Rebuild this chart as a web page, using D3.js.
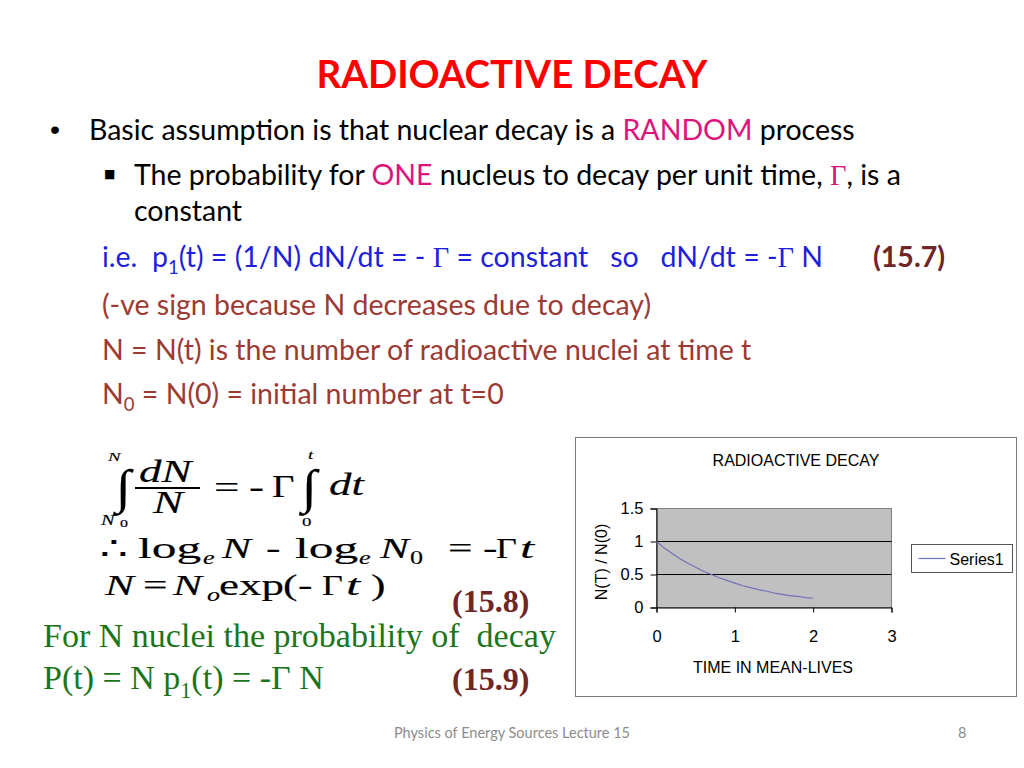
<!DOCTYPE html>
<html>
<head>
<meta charset="utf-8">
<script src="https://cdn.jsdelivr.net/npm/d3@7"></script>
<style>
  body { margin: 0; background: #fff; }
  svg { display: block; }
  text { white-space: pre; }
</style>
</head>
<body>
<svg id="slide" width="1024" height="768"></svg>
<script>
// chart data
const timeValues  = [0, 0.1, 0.2, 0.3, 0.4, 0.5, 0.6, 0.7, 0.8, 0.9, 1.0,
                     1.1, 1.2, 1.3, 1.4, 1.5, 1.6, 1.7, 1.8, 1.9, 2.0];
const ratioValues = [1.00, 0.90, 0.82, 0.74, 0.67, 0.61, 0.55, 0.50, 0.45, 0.41, 0.37,
                     0.33, 0.30, 0.27, 0.25, 0.22, 0.20, 0.18, 0.17, 0.15, 0.14];
const xTicks = [0, 1, 2, 3];
const yTicks = [0, 0.5, 1, 1.5];
const yTickLabels = ["0", "0.5", "1", "1.5"];
const seriesName = "Series1";

// slide colours
const C = {
  title: "#ff0000",
  pink: "#dc147c",
  blue: "#1f1fdc",
  brown: "#9c3a33",
  maroon: "#6e2626",
  green: "#1b761b",
  grey: "#8c8c8c"
};

const svg = d3.select("#slide");
const SANS = "Lato, 'Open Sans', sans-serif";
const SERIF = "'Liberation Serif', 'Times New Roman', serif";
const ARIAL = "'Liberation Sans', Arial, sans-serif";

// font size that makes str fill the given width
function fitSize(str, family, weight, base, target) {
  const t = svg.append("text")
    .attr("font-family", family)
    .attr("font-weight", weight)
    .attr("font-size", base)
    .text(str);
  const w = t.node().getComputedTextLength();
  t.remove();
  return base * target / w;
}

// one line of text built from coloured parts, subscripts allowed
function addLine(x, y, size, family, parts) {
  const t = svg.append("text")
    .attr("x", x).attr("y", y)
    .attr("font-size", size)
    .attr("font-family", family);
  let shift = 0;
  parts.forEach(p => {
    const sp = t.append("tspan").text(p.t);
    const target = p.sub ? size * 0.25 : 0;
    if (target !== shift) { sp.attr("dy", target - shift); shift = target; }
    if (p.sub) sp.attr("font-size", size * 0.65);
    if (p.c) sp.attr("fill", p.c);
    if (p.f) sp.attr("font-family", p.f);
    if (p.b) sp.attr("font-weight", "bold");
  });
  return t;
}

// ---- title ----
const titleSize = fitSize("RADIOACTIVE DECAY", SANS, "bold", 40, 391);
svg.append("text")
  .attr("x", 512).attr("y", 88)
  .attr("text-anchor", "middle")
  .attr("font-family", SANS).attr("font-weight", "bold")
  .attr("font-size", titleSize)
  .attr("fill", C.title)
  .text("RADIOACTIVE DECAY");

// ---- bullet text ----
const bodySize = fitSize("Basic assumption is that nuclear decay is a RANDOM process", SANS, "normal", 27, 766);

svg.append("text").attr("x", 50).attr("y", 139)
  .attr("font-family", ARIAL).attr("font-size", bodySize).text("•");
addLine(89, 140, bodySize, SANS, [
  { t: "Basic assumption is that nuclear decay is a " },
  { t: "RANDOM", c: C.pink },
  { t: " process" }
]);

svg.append("text").attr("x", 104).attr("y", 178)
  .attr("font-family", "'DejaVu Sans', sans-serif").attr("font-size", 12).text("■");
addLine(134, 185, bodySize, SANS, [
  { t: "The probability for " },
  { t: "ONE", c: C.pink },
  { t: " nucleus to decay per unit time, " },
  { t: "Γ", c: C.pink, f: SERIF },
  { t: ", is a" }
]);
addLine(134, 221, bodySize, SANS, [{ t: "constant" }]);

addLine(102, 267, bodySize, SANS, [
  { t: "i.e.  p", c: C.blue },
  { t: "1", c: C.blue, sub: true },
  { t: "(t) = (1/N) dN/dt = - ", c: C.blue },
  { t: "Γ", c: C.blue, f: SERIF },
  { t: " = constant   so   dN/dt = -", c: C.blue },
  { t: "Γ", c: C.blue, f: SERIF },
  { t: " N", c: C.blue }
]);
addLine(873, 267, bodySize, SANS, [{ t: "(15.7)", c: C.maroon, b: true }]);

addLine(102, 315, bodySize, SANS, [{ t: "(-ve sign because N decreases due to decay)", c: C.brown }]);
addLine(102, 360, bodySize, SANS, [{ t: "N = N(t) is the number of radioactive nuclei at time t", c: C.brown }]);
addLine(102, 404, bodySize, SANS, [
  { t: "N", c: C.brown },
  { t: "0", c: C.brown, sub: true },
  { t: " = N(0) = initial number at t=0", c: C.brown }
]);

// ---- equations (MathType look: stretched serif) ----
const SX = 1.45;
const eqPieces = [
  // integral line
  { s: "N", x: 108, y: 461, fs: 13, it: true },
  { s: "∫", x: 116, y: 503, fs: 48, sx: 1.15, b: true },
  { s: "dN", x: 139, y: 482, fs: 31, it: true },
  { s: "N", x: 153, y: 513, fs: 31, it: true },
  { s: "N", x: 101, y: 525, fs: 14, it: true },
  { s: "0", x: 120, y: 527, fs: 11 },
  { s: "=", x: 214, y: 498, fs: 31 },
  { s: "-", x: 249, y: 497, fs: 31 },
  { s: "Γ", x: 272, y: 497, fs: 31, sx: 1.25 },
  { s: "t", x: 308, y: 459, fs: 13, it: true },
  { s: "∫", x: 302, y: 503, fs: 48, sx: 1.15, b: true },
  { s: "dt", x: 329, y: 495, fs: 31, it: true },
  { s: "0", x: 302, y: 526, fs: 13 },
  // log line
  { s: "∴", x: 100, y: 558, fs: 30 },
  { s: "log", x: 138, y: 558, fs: 30, sx: 1.65 },
  { s: "e", x: 203, y: 564, fs: 18, it: true },
  { s: "N", x: 222, y: 558, fs: 30, it: true },
  { s: "-", x: 266, y: 558, fs: 30 },
  { s: "log", x: 295, y: 558, fs: 30, sx: 1.65 },
  { s: "e", x: 359, y: 564, fs: 18, it: true },
  { s: "N", x: 380, y: 558, fs: 30, it: true },
  { s: "0", x: 410, y: 564, fs: 18 },
  { s: "=", x: 448, y: 558, fs: 30 },
  { s: "-", x: 483, y: 558, fs: 30 },
  { s: "Γ", x: 496, y: 558, fs: 30, sx: 1.2 },
  { s: "t", x: 520, y: 558, fs: 30, it: true, sx: 1.7 },
  // exp line
  { s: "N", x: 105, y: 595, fs: 30, it: true },
  { s: "=", x: 143, y: 595, fs: 30 },
  { s: "N", x: 173, y: 595, fs: 30, it: true },
  { s: "o", x: 207, y: 601, fs: 18, it: true },
  { s: "exp", x: 219, y: 595, fs: 30, sx: 1.5 },
  { s: "(", x: 283, y: 595, fs: 30 },
  { s: "-", x: 298, y: 595, fs: 30 },
  { s: "Γ", x: 322, y: 595, fs: 30, sx: 1.2 },
  { s: "t", x: 346, y: 595, fs: 30, it: true, sx: 1.7 },
  { s: ")", x: 371, y: 595, fs: 30 }
];
svg.append("g").selectAll("text")
  .data(eqPieces)
  .join("text")
  .attr("transform", d => `translate(${d.x},${d.y}) scale(${d.sx || SX},1)`)
  .attr("font-family", SERIF)
  .attr("font-size", d => d.fs)
  .attr("font-style", d => d.it ? "italic" : "normal")
  .attr("font-weight", d => d.b ? "bold" : "normal")
  .attr("fill", "#000")
  .attr("stroke", "#000")
  .attr("stroke-width", 0.15)
  .text(d => d.s);
// fraction bar
svg.append("line")
  .attr("x1", 135).attr("x2", 200).attr("y1", 488).attr("y2", 488)
  .attr("stroke", "#000").attr("stroke-width", 2);

svg.append("text").attr("x", 452).attr("y", 612)
  .attr("font-family", SERIF).attr("font-weight", "bold").attr("font-size", 32)
  .attr("fill", C.maroon).text("(15.8)");

const greenSize = fitSize("For N nuclei the probability of  decay", SERIF, "normal", 30, 513);
addLine(43, 647, greenSize, SERIF, [{ t: "For N nuclei the probability of  decay", c: C.green }]);
addLine(43, 689, greenSize, SERIF, [
  { t: "P(t) = N p", c: C.green },
  { t: "1", c: C.green, sub: true },
  { t: "(t) = -Γ N", c: C.green }
]);
svg.append("text").attr("x", 452).attr("y", 690)
  .attr("font-family", SERIF).attr("font-weight", "bold").attr("font-size", 32)
  .attr("fill", C.maroon).text("(15.9)");

// ---- footer ----
svg.append("text").attr("x", 512).attr("y", 738)
  .attr("text-anchor", "middle")
  .attr("font-family", SANS).attr("font-size", 14.5)
  .attr("fill", C.grey).text("Physics of Energy Sources Lecture 15");
svg.append("text").attr("x", 958).attr("y", 738)
  .attr("font-family", SANS).attr("font-size", 14.5)
  .attr("fill", C.grey).text("8");

// ---- embedded chart ----
const chart = svg.append("g").attr("font-family", ARIAL);
chart.append("rect")
  .attr("x", 575.5).attr("y", 437.5).attr("width", 441).attr("height", 259)
  .attr("fill", "#fff").attr("stroke", "#7a7a7a").attr("stroke-width", 1);

const x = d3.scaleLinear().domain([0, 3]).range([656.5, 891.5]);
const y = d3.scaleLinear().domain([0, 1.5]).range([607.5, 508.5]);

chart.append("rect")
  .attr("x", x(0)).attr("y", y(1.5))
  .attr("width", x(3) - x(0)).attr("height", y(0) - y(1.5))
  .attr("fill", "#c0c0c0").attr("stroke", "#808080");

// major gridlines
chart.append("g").selectAll("line")
  .data(yTicks.filter(v => v > 0 && v < 1.5))
  .join("line")
  .attr("x1", x(0)).attr("x2", x(3))
  .attr("y1", d => y(d)).attr("y2", d => y(d))
  .attr("stroke", "#000");

const xAxis = chart.append("g")
  .attr("transform", `translate(0,${y(0)})`)
  .call(d3.axisBottom(x).tickValues(xTicks).tickSize(5).tickPadding(18).tickFormat(d3.format("d")));
const yAxis = chart.append("g")
  .attr("transform", `translate(${x(0)},0)`)
  .call(d3.axisLeft(y).tickValues(yTicks).tickSize(6).tickPadding(7)
    .tickFormat((d, i) => yTickLabels[i]));
[xAxis, yAxis].forEach(a => {
  a.attr("font-family", ARIAL).attr("font-size", 16.5);
  a.selectAll("path,line").attr("stroke", "#000");
  a.selectAll("text").attr("fill", "#000");
});

const line = d3.line().x((d, i) => x(timeValues[i])).y(d => y(d));
chart.append("path")
  .datum(ratioValues)
  .attr("d", line)
  .attr("fill", "none")
  .attr("stroke", "#7070b8")
  .attr("stroke-width", 1.2);

chart.append("text")
  .attr("x", 796).attr("y", 466)
  .attr("text-anchor", "middle").attr("font-size", 16)
  .text("RADIOACTIVE DECAY");
chart.append("text")
  .attr("x", 773).attr("y", 673)
  .attr("text-anchor", "middle").attr("font-size", 16)
  .text("TIME IN MEAN-LIVES");
chart.append("text")
  .attr("transform", "translate(607,562) rotate(-90)")
  .attr("text-anchor", "middle").attr("font-size", 16)
  .text("N(T) / N(0)");

// legend
const legend = chart.append("g").attr("transform", "translate(911.5,544.5)");
legend.append("rect")
  .attr("width", 101).attr("height", 28)
  .attr("fill", "#fff").attr("stroke", "#555");
legend.append("line")
  .attr("x1", 7).attr("x2", 34).attr("y1", 14).attr("y2", 14)
  .attr("stroke", "#7070b8").attr("stroke-width", 1.2);
legend.append("text")
  .attr("x", 38).attr("y", 20).attr("font-size", 16)
  .text(seriesName);
</script>
</body>
</html>
